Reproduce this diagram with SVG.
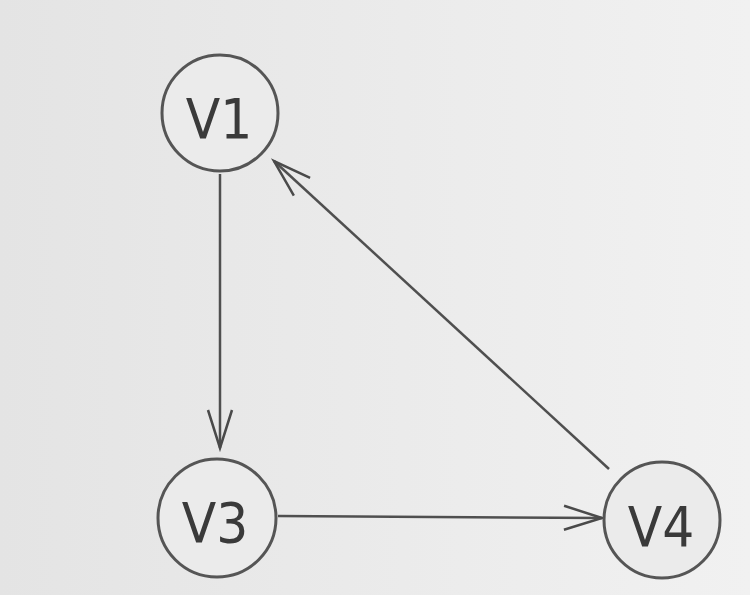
<svg xmlns="http://www.w3.org/2000/svg" width="750" height="595" viewBox="0 0 750 595">
<defs>
<linearGradient id="bg" x1="0" y1="0" x2="1" y2="0">
<stop offset="0" stop-color="#e4e4e4"/>
<stop offset="1" stop-color="#f1f1f1"/>
</linearGradient>
<marker id="arr" markerUnits="userSpaceOnUse" markerWidth="50" markerHeight="30" viewBox="-42 -15 46 30" refX="0" refY="0" orient="auto">
<path d="M -38 -12 L 0 0 L -38 12" fill="none" stroke="#4a4a4a" stroke-width="2.5" stroke-linejoin="miter"/>
</marker>
<style>
.node circle { fill: #ebebeb; stroke: #555555; stroke-width: 3; }
.node text { font-family: "DejaVu Sans Condensed", "DejaVu Sans", sans-serif; font-size: 56px; fill: #3a3a3a; text-anchor: middle; }
.edges line { stroke: #4f4f4f; stroke-width: 2.5; marker-end: url(#arr); }
</style>
</defs>
<rect width="750" height="595" fill="url(#bg)"/>
<g class="edges" id="edges">
<line x1="220" y1="174" x2="220" y2="448"/>
<line x1="278" y1="516" x2="602" y2="518"/>
<line x1="609" y1="469" x2="274" y2="161"/>
</g>
<g class="node" id="V1">
<circle cx="220" cy="113" r="58"/>
<text x="219" y="138">V1</text>
</g>
<g class="node" id="V3">
<circle cx="217" cy="518" r="59"/>
<text x="215" y="542">V3</text>
</g>
<g class="node" id="V4">
<circle cx="662" cy="520" r="58"/>
<text x="661" y="546">V4</text>
</g>
</svg>
